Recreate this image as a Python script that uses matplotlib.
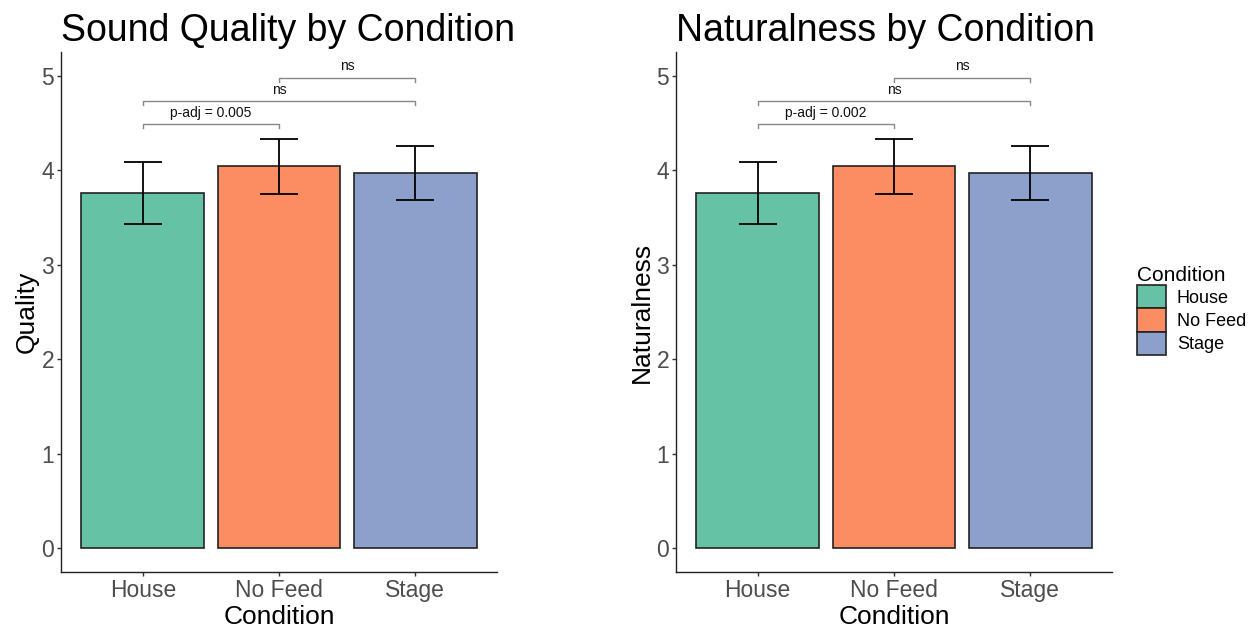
import matplotlib
matplotlib.use("Agg")
import matplotlib.pyplot as plt
from matplotlib.patches import Patch

plt.rcParams['font.family'] = ['Liberation Sans', 'DejaVu Sans']

conditions = ["House", "No Feed", "Stage"]
colors = ["#66C2A5", "#FC8D62", "#8DA0CB"]
quality_mean = [3.76, 4.04, 3.97]
quality_err = [0.325, 0.29, 0.285]
natural_mean = [3.76, 4.04, 3.97]
natural_err = [0.325, 0.29, 0.285]
brackets_q = [(1, 2, 4.49, "p-adj = 0.005"), (1, 3, 4.73, "ns"), (2, 3, 4.98, "ns")]
brackets_n = [(1, 2, 4.49, "p-adj = 0.002"), (1, 3, 4.73, "ns"), (2, 3, 4.98, "ns")]
yticks = [0, 1, 2, 3, 4, 5]

fig = plt.figure(figsize=(12.52, 6.33), dpi=100)
W, H = 1252, 633

def make_ax(x0, x1, y0, y1):
    return fig.add_axes([x0 / W, 1 - y1 / H, (x1 - x0) / W, (y1 - y0) / H])

def draw(ax, means, errs, brackets, title, ylabel):
    xs = [1, 2, 3]
    ax.bar(xs, means, width=0.9, color=colors, edgecolor="#222222", linewidth=1.2, zorder=2)
    ax.errorbar(xs, means, yerr=errs, fmt="none", ecolor="black", elinewidth=1.3,
                capsize=14, capthick=1.3, zorder=3)
    for a, b, y, lab in brackets:
        ax.plot([a, a, b, b], [y - 0.045, y, y, y - 0.045], color="#888888", lw=1.0, zorder=3)
        ax.text((a + b) / 2, y + 0.045, lab, ha="center", va="bottom", fontsize=10, color="#111111")
    ax.set_xlim(0.4, 3.6)
    ax.set_ylim(-0.25, 5.25)
    ax.set_xticks(xs)
    ax.set_xticklabels(conditions)
    ax.set_yticks(yticks)
    for s in ["top", "right"]:
        ax.spines[s].set_visible(False)
    for s in ["left", "bottom"]:
        ax.spines[s].set_color("#222222")
        ax.spines[s].set_linewidth(1.0)
    ax.tick_params(axis="both", labelsize=16.5, colors="#333333", labelcolor="#4D4D4D",
                   length=3, width=1, pad=2)
    ax.set_xlabel("Condition", fontsize=19, color="black", labelpad=2)
    ax.set_ylabel(ylabel, fontsize=19, color="black", labelpad=2)
    ax.set_title(title, fontsize=27, loc="left", pad=8, x=0.0)

ax1 = make_ax(61, 497, 52, 572)
draw(ax1, quality_mean, quality_err, brackets_q, "Sound Quality by Condition", "Quality")
ax2 = make_ax(676, 1112, 52, 572)
draw(ax2, natural_mean, natural_err, brackets_n, "Naturalness by Condition", "Naturalness")

handles = [Patch(facecolor=c, edgecolor="#222222", linewidth=1.2) for c in colors]
leg = fig.legend(handles, conditions, title="Condition", loc="upper left",
                 bbox_to_anchor=(1130 / W, 1 - 259 / H), frameon=False, fontsize=13,
                 title_fontsize=15, handlelength=1.6, handleheight=1.6, handletextpad=0.6,
                 labelspacing=0.0, borderaxespad=0)
leg._legend_box.align = "left"

fig.savefig("out.png", dpi=100)
